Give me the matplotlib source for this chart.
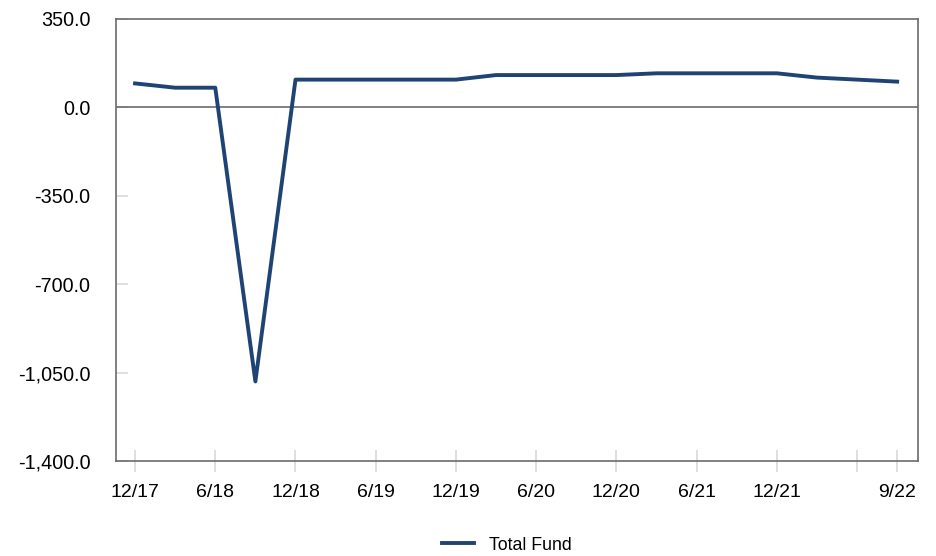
import matplotlib
matplotlib.use("Agg")
import matplotlib.pyplot as plt
from matplotlib import font_manager
from matplotlib.ticker import FuncFormatter

plt.rcParams["font.family"] = ["Liberation Sans", "DejaVu Sans"]

# Quarterly series
quarters = ["12/17", "3/18", "6/18", "9/18", "12/18", "3/19", "6/19", "9/19",
            "12/19", "3/20", "6/20", "9/20", "12/20", "3/21", "6/21", "9/21",
            "12/21", "3/22", "6/22", "9/22"]
total_fund = [95, 78, 78, -1085, 110, 110, 110, 110,
              110, 128, 128, 128, 128, 135, 135, 135,
              135, 118, 110, 102]

tick_positions = [0, 2, 4, 6, 8, 10, 12, 14, 16, 18, 19]
tick_labels = ["12/17", "6/18", "12/18", "6/19", "12/19", "6/20",
               "12/20", "6/21", "12/21", "", "9/22"]
y_ticks = [350, 0, -350, -700, -1050, -1400]

line_color = "#1f4474"
frame_color = "#6b6b6b"
tick_color = "#d9d9d9"

available = {f.name for f in font_manager.fontManager.ttflist}
if "Liberation Sans Narrow" in available:
    xlabel_family, xlabel_size = "Liberation Sans Narrow", 16.0
else:
    xlabel_family, xlabel_size = "Liberation Sans", 14.0

fig = plt.figure(figsize=(9.36, 5.56), dpi=100)
ax = fig.add_axes([116 / 936, 1 - 461 / 556, (918 - 116) / 936, (461 - 19) / 556])

x = list(range(len(quarters)))
line, = ax.plot(x, total_fund, color=line_color, linewidth=2.8,
                solid_joinstyle="round", label="Total Fund", zorder=3)

ax.axhline(0, color=frame_color, linewidth=1.2, zorder=2)

ax.set_xlim(-0.475, 19.52)
ax.set_ylim(-1400, 350)
ax.set_yticks(y_ticks)
ax.yaxis.set_major_formatter(FuncFormatter(lambda v, p: f"{v:,.1f}"))
ax.set_xticks(tick_positions)
ax.set_xticklabels(tick_labels, family=xlabel_family, fontsize=xlabel_size)

for s in ax.spines.values():
    s.set_color(frame_color)
    s.set_linewidth(1.2)

ax.tick_params(axis="x", direction="inout", length=16.5, width=1.2,
               color=tick_color, pad=8.0, labelcolor="black")
ax.tick_params(axis="y", direction="in", length=8.5, width=1.2,
               color=tick_color, pad=18.5, labelsize=14.2, labelcolor="black")

fig.legend(handles=[line], loc="center", bbox_to_anchor=(507 / 936, 1 - 545 / 556),
           frameon=False, fontsize=12.8, handlelength=1.8, handletextpad=0.85)

fig.savefig("out.png", dpi=100)
